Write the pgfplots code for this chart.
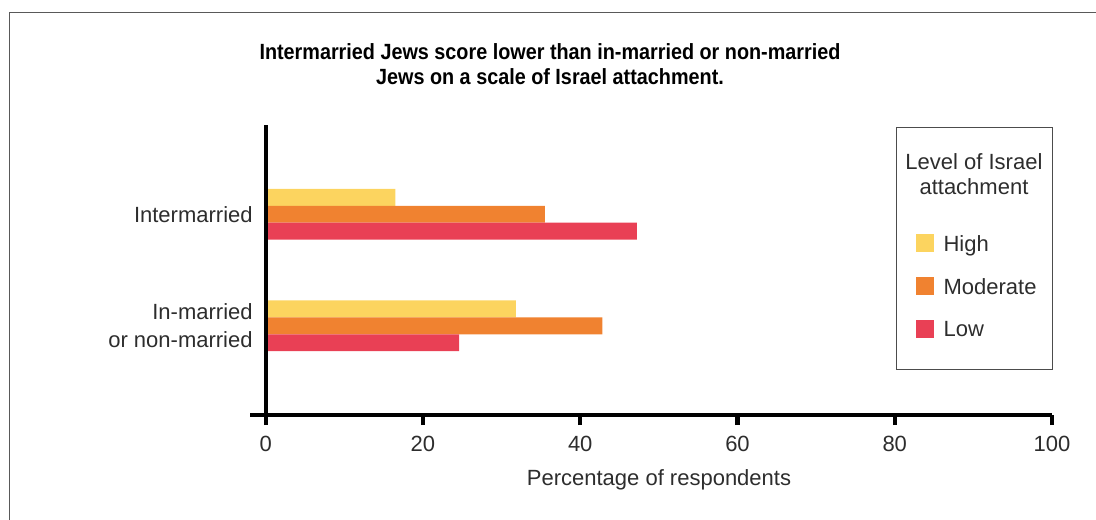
\documentclass[border=0pt]{standalone}
\usepackage{pgfplots}
\pgfplotsset{compat=1.18}
\usepackage{fontspec}
\setmainfont{Liberation Sans}
\newfontfamily\titlefont[FakeStretch=0.9]{Liberation Sans}
\definecolor{cHigh}{RGB}{252,212,95}
\definecolor{cMod}{RGB}{240,130,48}
\definecolor{cLow}{RGB}{233,64,85}
\definecolor{txt}{RGB}{45,45,45}
\begin{document}
\begin{tikzpicture}[x=0.75pt,y=0.75pt]
\useasboundingbox (0,0) rectangle (1096,519);
\draw[black!65, line width=0.75pt] (9,-20) -- (9,506) -- (1120,506);
\node[align=center, font=\titlefont\bfseries\fontsize{16.5}{18.75}\selectfont] at (550,455)
  {Intermarried Jews score lower than in-married or non-married\\Jews on a scale of Israel attachment.};
\begin{axis}[
  at={(187.5pt,78pt)}, anchor=south west,
  scale only axis, width=601.5pt, height=217.5pt,
  xmin=-2, xmax=100, ymin=-0.8, ymax=1.8,
  clip=false,
  axis line style={draw=none},
  xtick={0,20,40,60,80,100},
  xtick pos=lower,
  ytick={0,1},
  yticklabels={{In-married\\or non-married},{Intermarried}},
  tick align=outside,
  major tick length=7.5pt,
  every tick/.style={black, line width=3.2pt},
  x tick style={line width=3.2pt, black},
  y tick style={draw=none},
  /pgf/number format/assume math mode=true,
  x tick label style={font=\fontsize{16.5}{20}\selectfont, text=txt, yshift=-5pt},
  y tick label style={font=\fontsize{16.5}{21}\selectfont, text=txt, align=right, xshift=13pt},
  xlabel={Percentage of respondents},
  xlabel style={font=\fontsize{16.5}{20}\selectfont, text=txt, at={(axis description cs:0.51,0)}, anchor=center, yshift=-48.5pt},
  legend style={draw=none, fill=none, inner sep=0pt, at={(rel axis cs:0.8304,0.624)}, anchor=north west,
    font=\fontsize{16.5}{20}\selectfont, text=txt, row sep=15.5pt, column sep=7pt,
    nodes={inner sep=0pt, text height=12pt, text depth=3.5pt}},
  legend cell align=left,
]
\addplot[xbar, bar width=0.152, bar shift=0.152, fill=cHigh, draw=none,
  legend image code/.code={\fill[cHigh] (0pt,-4.75pt) rectangle (13.5pt,8.75pt);}]
  coordinates {(16.5,1) (31.8,0)};
\addlegendentry{High}
\addplot[xbar, bar width=0.152, bar shift=0, fill=cMod, draw=none,
  legend image code/.code={\fill[cMod] (0pt,-4.75pt) rectangle (13.5pt,8.75pt);}]
  coordinates {(35.5,1) (42.8,0)};
\addlegendentry{Moderate}
\addplot[xbar, bar width=0.152, bar shift=-0.152, fill=cLow, draw=none,
  legend image code/.code={\fill[cLow] (0pt,-4.75pt) rectangle (13.5pt,8.75pt);}]
  coordinates {(47.2,1) (24.6,0)};
\addlegendentry{Low}
\draw[black, line width=2.6pt] (axis cs:-2,-0.8) -- (axis cs:100,-0.8);
\draw[black, line width=3pt] (axis cs:0,1.8) -- (axis cs:0,-0.8);
\draw[black!70, line width=0.75pt] (rel axis cs:0.8055,0.1586) rectangle (rel axis cs:1,0.993);
\node[align=center, text=txt, font=\fontsize{16.5}{18.75}\selectfont] at (rel axis cs:0.9027,0.829)
  {Level of Israel\\attachment};
\end{axis}
\end{tikzpicture}
\end{document}
